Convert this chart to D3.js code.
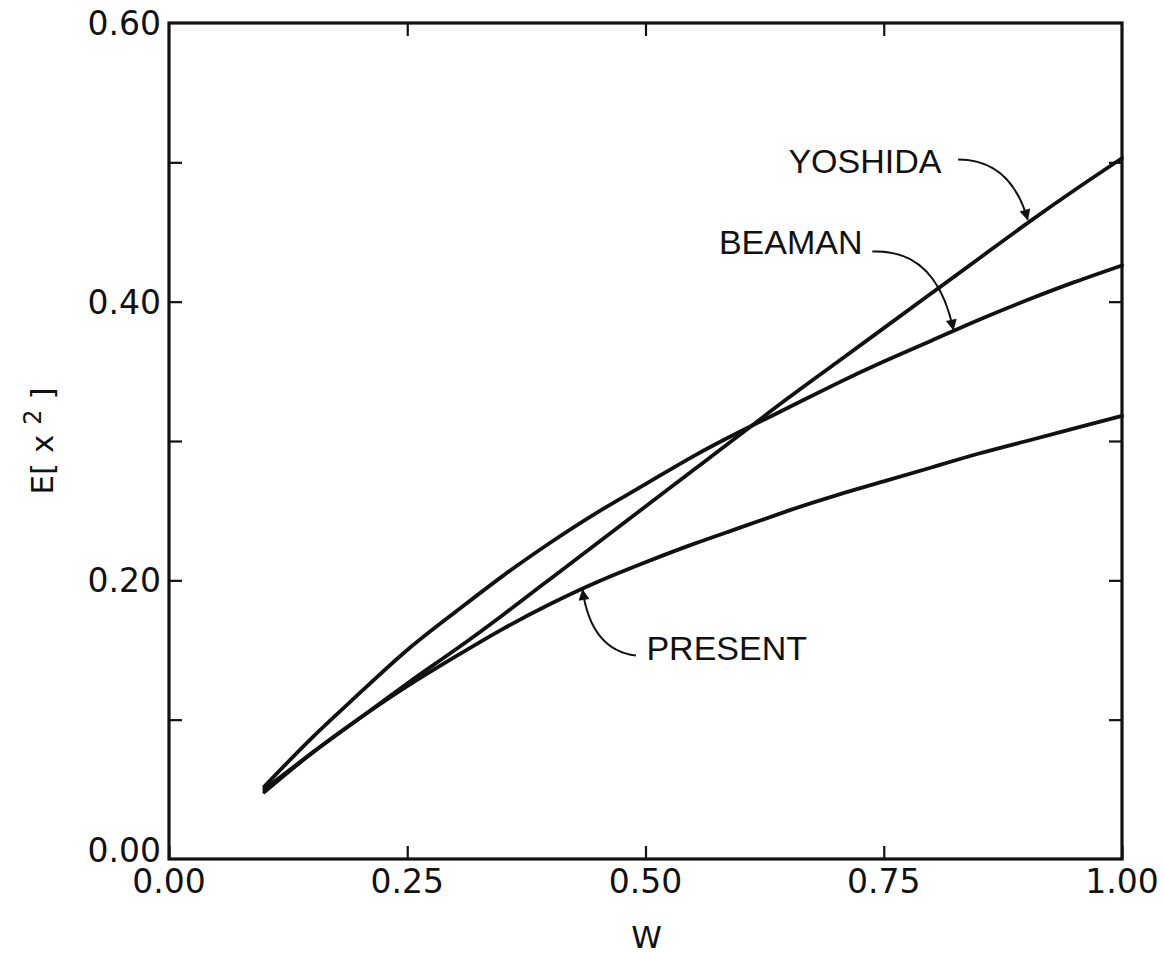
<!DOCTYPE html>
<html>
<head>
<meta charset="utf-8">
<script src="https://cdn.jsdelivr.net/npm/d3@7"></script>
<style>
  html, body { margin: 0; padding: 0; background: #fff; }
  svg text { font-family: "DejaVu Sans", "Liberation Sans", sans-serif; fill: #111; }
  svg text.ann { font-family: "Liberation Sans", "DejaVu Sans", sans-serif; }
</style>
</head>
<body>
<svg id="chart" width="1164" height="954"></svg>
<script>
// ---- data ----
const w = [0.10, 0.15, 0.20, 0.25, 0.30, 0.35, 0.40, 0.45, 0.50, 0.55, 0.60, 0.65, 0.70, 0.75, 0.80, 0.85, 0.90, 0.95, 1.00];
const yoshida = [0.050, 0.076, 0.101, 0.126, 0.150, 0.175, 0.201, 0.227, 0.253, 0.279, 0.305, 0.331, 0.356, 0.381, 0.406, 0.431, 0.456, 0.480, 0.503];
const beaman  = [0.052, 0.087, 0.119, 0.150, 0.177, 0.203, 0.227, 0.249, 0.269, 0.289, 0.307, 0.324, 0.341, 0.357, 0.372, 0.387, 0.401, 0.414, 0.426];
const present = [0.048, 0.076, 0.101, 0.124, 0.145, 0.165, 0.183, 0.199, 0.213, 0.226, 0.238, 0.250, 0.261, 0.271, 0.281, 0.291, 0.300, 0.309, 0.318];
const xTicks = [0, 0.25, 0.5, 0.75, 1.0];
const xTickLabels = ["0.00", "0.25", "0.50", "0.75", "1.00"];
const yTicks = [0, 0.1, 0.2, 0.3, 0.4, 0.5, 0.6];
const yTickLabels = ["0.00", "", "0.20", "", "0.40", "", "0.60"];
const seriesNames = ["YOSHIDA", "BEAMAN", "PRESENT"];

// ---- layout ----
const svg = d3.select("#chart");
const mLeft = 169, mRight = 1122, mTop = 23, mBottom = 859;
const x = d3.scaleLinear().domain([0, 1]).range([mLeft, mRight]);
const y = d3.scaleLinear().domain([0, 0.6]).range([mBottom, mTop]);

// ticks (inward) via axes
const tickLen = 13;
const gB = svg.append("g").attr("transform", `translate(0,${mBottom})`)
  .call(d3.axisTop(x).tickValues(xTicks).tickSize(tickLen).tickFormat(""));
const gT = svg.append("g").attr("transform", `translate(0,${mTop})`)
  .call(d3.axisBottom(x).tickValues(xTicks.slice(1, -1)).tickSize(tickLen).tickFormat(""));
const gL = svg.append("g").attr("transform", `translate(${mLeft},0)`)
  .call(d3.axisRight(y).tickValues(yTicks.slice(1, -1)).tickSize(tickLen).tickFormat(""));
const gR = svg.append("g").attr("transform", `translate(${mRight},0)`)
  .call(d3.axisLeft(y).tickValues(yTicks.slice(1, -1)).tickSize(tickLen).tickFormat(""));
[gB, gT, gL, gR].forEach(g => {
  g.select(".domain").remove();
  g.selectAll("line").attr("stroke", "#111").attr("stroke-width", 2.2);
});

// frame
svg.append("rect")
  .attr("x", mLeft).attr("y", mTop)
  .attr("width", mRight - mLeft).attr("height", mBottom - mTop)
  .attr("fill", "none").attr("stroke", "#111").attr("stroke-width", 3.2);

// tick labels
svg.append("g").selectAll("text").data(xTicks).join("text")
  .attr("x", d => x(d)).attr("y", mBottom + 34)
  .attr("text-anchor", "middle").attr("font-size", 33)
  .text((d, i) => xTickLabels[i]);
svg.append("g").selectAll("text").data(yTicks).join("text")
  .attr("x", mLeft - 8).attr("y", d => y(d) + (d === 0 ? 3 : 12))
  .attr("text-anchor", "end").attr("font-size", 33)
  .text((d, i) => yTickLabels[i]);

// axis titles
svg.append("text").attr("x", (mLeft + mRight) / 2 + 1).attr("y", 948)
  .attr("text-anchor", "middle").attr("font-size", 31).text("W");
const yt = svg.append("text")
  .attr("transform", `translate(53,${y(0.3)}) rotate(-90)`)
  .attr("text-anchor", "middle").attr("font-size", 31);
yt.append("tspan").text("E[ x ");
yt.append("tspan").attr("font-size", 24).attr("dy", -12).text("2");
yt.append("tspan").attr("dy", 12).text(" ]");

// curves
const line = d3.line().x(d => x(d[0])).y(d => y(d[1])).curve(d3.curveNatural);
[yoshida, beaman, present].forEach(s => {
  svg.append("path")
    .datum(w.map((v, i) => [v, s[i]]))
    .attr("d", line)
    .attr("fill", "none").attr("stroke", "#111").attr("stroke-width", 3.8)
    .attr("stroke-linejoin", "round").attr("stroke-linecap", "round");
});

// arrowhead marker
svg.append("defs").append("marker")
  .attr("id", "ah").attr("viewBox", "0 0 10 10")
  .attr("refX", 9).attr("refY", 5)
  .attr("markerWidth", 20).attr("markerHeight", 11)
  .attr("markerUnits", "userSpaceOnUse")
  .attr("orient", "auto")
  .append("path").attr("d", "M0,0 L10,5 L0,10 Z").attr("fill", "#111");

// annotations (label position + arrow in data coordinates)
const labelPos = [[0.650, 0.492], [0.577, 0.434], [0.501, 0.143]];
const arrowStart = [[0.828, 0.502], [0.738, 0.436], [0.490, 0.146]];
const arrowCtrl  = [[0.883, 0.502], [0.805, 0.438], [0.443, 0.150]];
const arrowTip   = [[0.901, 0.459], [0.823, 0.380], [0.434, 0.193]];

seriesNames.forEach((name, i) => {
  svg.append("text").attr("class", "ann")
    .attr("x", x(labelPos[i][0])).attr("y", y(labelPos[i][1]))
    .attr("text-anchor", "start").attr("font-size", 34)
    .text(name);
  const p = d3.path();
  p.moveTo(x(arrowStart[i][0]), y(arrowStart[i][1]));
  p.quadraticCurveTo(x(arrowCtrl[i][0]), y(arrowCtrl[i][1]), x(arrowTip[i][0]), y(arrowTip[i][1]));
  svg.append("path").attr("d", p.toString())
    .attr("fill", "none").attr("stroke", "#111").attr("stroke-width", 2)
    .attr("marker-end", "url(#ah)");
});
</script>
</body>
</html>
